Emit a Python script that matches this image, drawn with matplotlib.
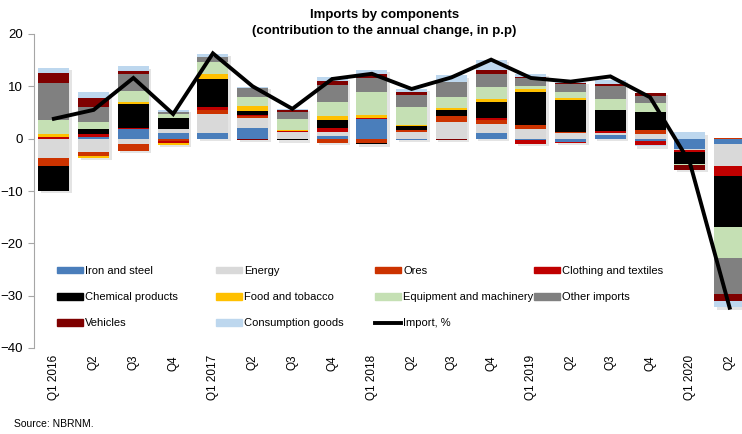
import numpy as np
import matplotlib.pyplot as plt
from matplotlib.patches import Patch
from matplotlib.lines import Line2D

# Quarters and contributions (p.p.)
quarters = ['Q1 2016', 'Q2', 'Q3', 'Q4', 'Q1 2017', 'Q2', 'Q3', 'Q4',
            'Q1 2018', 'Q2', 'Q3', 'Q4', 'Q1 2019', 'Q2', 'Q3', 'Q4',
            'Q1 2020', 'Q2']

iron = [0, 0.4, 1.9, 1.0, 1.0, 2.0, 0, 0.6, 3.7, -0.2, 0, 1.1, -0.3, -0.55, 0.7, -0.5, -1.9, -1.1]
energy = [-3.6, -2.6, -1.0, 0.9, 3.8, 2.0, 1.3, 0.75, -0.15, 1.3, 3.25, 1.7, 1.9, 1.0, 0.35, 0.8, -0.3, -4.2]
ores = [-1.6, -0.8, -1.35, -0.4, 0.6, 0.25, -0.1, -0.8, -0.7, 0.4, 1.15, 0.85, 0.8, 0.2, 0, 0.95, 0, 0.15]
clothing = [0.3, 0.4, 0.15, -0.5, 0.7, 0.25, 0.1, 0.65, 0.2, 0, 0, 0.25, -0.7, -0.25, 0.35, -0.65, -0.4, -1.9]
chemical = [-4.8, 1.0, 4.5, 2.1, 5.3, 0.8, -0.2, 1.5, -0.2, 0.65, 1.15, 3.2, 6.2, 6.15, 4.0, 3.3, -2.2, -9.7]
food = [0.5, -0.25, 0.5, -0.3, 1.0, 0.9, 0.25, 0.8, 0.7, 0.2, 0.25, 0.5, 0.5, 0.4, 0, 0, 0, 0]
equipment = [2.8, 1.4, 2.1, 0.8, 2.2, 1.8, 2.1, 2.8, 4.4, 3.45, 2.1, 2.2, 0.6, 1.15, 2.1, 1.75, -0.2, -5.9]
other = [7.1, 2.9, 3.25, 0.3, 1.0, 1.75, 1.4, 3.2, 2.5, 2.4, 2.9, 2.5, 1.5, 1.5, 2.5, 1.35, 0, -6.8]
vehicles = [1.8, 1.6, 0.6, 0, 0, -0.2, 0.3, 0.8, 0.9, 0.6, -0.2, 0.9, 0.3, 0.2, 0.4, 0.6, -0.9, -1.5]
consumption = [1.0, 1.3, 0.8, 0.4, 0.6, 0.2, 0.25, 0.6, 0.7, 0.5, 1.3, 1.9, 0.65, 0.3, 0.9, -0.3, 1.2, -1.1]

imports_total = [3.8, 5.5, 11.6, 4.7, 16.3, 10.0, 5.7, 11.4, 12.4, 9.5, 11.7, 15.1,
                 11.6, 10.9, 11.9, 7.9, -4.6, -32.3]

series = [
    ('Iron and steel', iron, '#4a7ebb'),
    ('Energy', energy, '#d9d9d9'),
    ('Ores', ores, '#cc3300'),
    ('Clothing and textiles', clothing, '#c00000'),
    ('Chemical products', chemical, '#000000'),
    ('Food and tobacco', food, '#ffc000'),
    ('Equipment and machinery', equipment, '#c5e0b4'),
    ('Other imports', other, '#808080'),
    ('Vehicles', vehicles, '#7f0000'),
    ('Consumption goods', consumption, '#bdd7ee'),
]

plt.rcParams['font.family'] = ['Liberation Sans', 'DejaVu Sans']

fig = plt.figure(figsize=(7.42, 4.34), dpi=100)
ax = fig.add_axes([34 / 742, 86 / 434, 715.5 / 742, 314 / 434])

x = np.arange(len(quarters))
width = 0.78

# soft drop shadow behind each stacked column
vals = np.array([s[1] for s in series], dtype=float)
pos_tot = np.where(vals > 0, vals, 0).sum(axis=0)
neg_tot = np.where(vals < 0, vals, 0).sum(axis=0)
ax.bar(x + 0.06, pos_tot - neg_tot, width, bottom=neg_tot - 0.45,
       color='#cfcfcf', alpha=0.55, zorder=1)

pos_bottom = np.zeros(len(x))
neg_bottom = np.zeros(len(x))
for name, v, c in series:
    v = np.array(v, dtype=float)
    bottom = np.where(v >= 0, pos_bottom, neg_bottom)
    ax.bar(x, v, width, bottom=bottom, color=c, zorder=2)
    pos_bottom += np.where(v > 0, v, 0)
    neg_bottom += np.where(v < 0, v, 0)

ax.plot(x, imports_total, color='black', lw=2.8, zorder=3, solid_joinstyle='miter')

ax.set_xlim(-0.5, len(x) - 0.5)
ax.set_ylim(-40, 20)
ax.set_yticks(range(-40, 21, 10))
ax.tick_params(axis='y', labelsize=9.5, length=4, color='#a6a6a6', pad=4)
ax.set_xticks(x)
ax.set_xticklabels(quarters, rotation=90, fontsize=8.5, va='top')
ax.tick_params(axis='x', length=0, pad=5)
for s in ['top', 'right', 'bottom']:
    ax.spines[s].set_visible(False)
ax.spines['left'].set_color('#a6a6a6')

# legend laid out in fixed-width columns, like the original
handles = [Patch(color=c, label=n) for n, _, c in series]
handles.append(Line2D([], [], color='black', lw=2.8, label='Import, %'))
columns = [[0, 4, 8], [1, 5, 9], [2, 6, 10], [3, 7]]
col_x = [57, 216, 375, 534]
for k, (cx, idx) in enumerate(zip(col_x, columns)):
    leg = ax.legend([handles[i] for i in idx], [handles[i].get_label() for i in idx],
                    loc='upper left', bbox_to_anchor=((cx - 34) / 715.5, (348 - 266) / 314),
                    frameon=False, fontsize=8.0, handlelength=2.3, handleheight=0.55,
                    handletextpad=0.25, labelspacing=1.45, borderpad=0, borderaxespad=0)
    if k < len(columns) - 1:
        ax.add_artist(leg)

fig.text(0.518, 0.965, 'Imports by components', ha='center', va='center',
         fontsize=9.5, fontweight='bold')
fig.text(0.518, 0.929, '(contribution to the annual change, in p.p)', ha='center',
         va='center', fontsize=9.5, fontweight='bold')
fig.text(14 / 742, 1 - 424 / 434, 'Source: NBRNM.', ha='left', va='center', fontsize=7.5)

fig.savefig('out.png', dpi=100)
